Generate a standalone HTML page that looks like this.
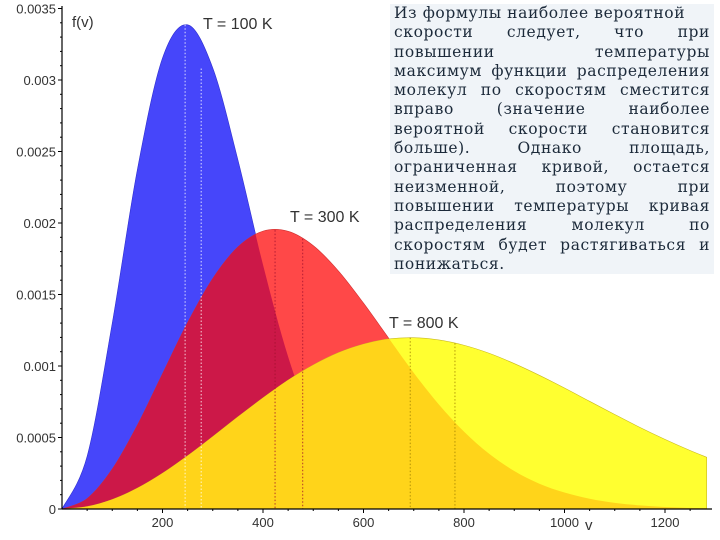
<!DOCTYPE html>
<html><head><meta charset="utf-8">
<style>
html,body{margin:0;padding:0;background:#fff;}
#wrap{position:relative;width:720px;height:540px;overflow:hidden;font-family:"Liberation Sans",sans-serif;}
svg{position:absolute;left:0;top:0;}
#note{position:absolute;left:390px;top:4px;width:324px;height:270px;background:#f0f4f8;padding:0 4px;box-sizing:border-box;
font-family:"DejaVu Serif","Liberation Serif",serif;font-size:15.5px;letter-spacing:0.6px;line-height:19.3px;color:#1c2a3a;}
#note div{text-align:justify;text-align-last:justify;white-space:nowrap;}
#note div.l{text-align-last:left;}
</style></head><body>
<div id="wrap">
<svg id="chart" width="720" height="540"></svg>
<div id="note">
<div class="l">Из формулы наиболее вероятной</div>
<div>скорости следует, что при</div>
<div>повышении температуры</div>
<div>максимум функции распределения</div>
<div>молекул по скоростям сместится</div>
<div>вправо (значение наиболее</div>
<div>вероятной скорости становится</div>
<div>больше). Однако площадь,</div>
<div>ограниченная кривой, остается</div>
<div>неизменной, поэтому при</div>
<div>повышении температуры кривая</div>
<div>распределения молекул по</div>
<div>скоростям будет растягиваться и</div>
<div class="l">понижаться.</div>
</div>
</div>
<script>
const speeds=[0,50,100,150,200,250,300,350,400,450,500,550,600,650,700,750,800,850,900,950,1000,1050,1100,1150,1200,1250,1283];
const f100=[0,0.000368,0.001299,0.002373,0.003153,0.003386,0.003084,0.002442,0.001708,0.001065,0.000596,0.000301,0.000137,0.000057,0.000021,0.000008,0.000003,0,0,0,0,0,0,0,0,0,0];
const f300=[0,0.0000728,0.000279,0.000586,0.000946,0.001304,0.001612,0.001832,0.001943,0.001942,0.001842,0.001665,0.00144,0.001195,0.000952,0.000731,0.000541,0.000386,0.000266,0.000177,0.000115,0.0000715,0.0000432,0.0000253,0.0000143,0.0000078,0.000006];
const f800=[0,0.0000169,0.0000664,0.0001456,0.0002496,0.000372,0.000506,0.000644,0.000777,0.000901,0.001007,0.001093,0.001153,0.001189,0.001198,0.001182,0.001145,0.001089,0.001017,0.000935,0.000846,0.000753,0.000661,0.000571,0.000487,0.000409,0.000362];
const xTicks=[200,400,600,800,1000,1200];
const yTicks=[0,0.0005,0.001,0.0015,0.002,0.0025,0.003,0.0035];
const yTickLabels=["0","0.0005","0.001","0.0015","0.002","0.0025","0.003","0.0035"];
const vLines=[[245,0.003386,'#fff'],[277,0.00308,'#fff'],[424,0.00195,'#a0102e'],[479,0.00189,'#a0102e'],[693,0.001198,'#a08000'],[782,0.00116,'#a08000']];

const NS="http://www.w3.org/2000/svg";
const svg=document.getElementById('chart');
const X0=62,Y0=509;
const xs=v=>X0+v*0.5025;
const ys=f=>Y0-f*143000;
function el(t,a,p){const e=document.createElementNS(NS,t);for(const k in a)e.setAttribute(k,a[k]);(p||svg).appendChild(e);return e;}
function pathFor(arr){
  const pts=speeds.map((v,i)=>[xs(v),ys(arr[i])]);
  let d=`M${pts[0][0]},${Y0} L${pts[0][0]},${pts[0][1]}`;
  for(let i=0;i<pts.length-1;i++){
    const p0=pts[Math.max(0,i-1)],p1=pts[i],p2=pts[i+1],p3=pts[Math.min(pts.length-1,i+2)];
    const c1=[p1[0]+(p2[0]-p0[0])/6,p1[1]+(p2[1]-p0[1])/6];
    const c2=[p2[0]-(p3[0]-p1[0])/6,p2[1]-(p3[1]-p1[1])/6];
    d+=` C${c1[0]},${Math.min(Y0,c1[1])} ${c2[0]},${Math.min(Y0,c2[1])} ${p2[0]},${p2[1]}`;
  }
  d+=` L${pts[pts.length-1][0]},${Y0} Z`;return d;
}
const defs=el('defs',{});
const dB=pathFor(f100),dR=pathFor(f300),dY=pathFor(f800);
const cB=el('clipPath',{id:'cb'},defs);el('path',{d:dB},cB);
const cR=el('clipPath',{id:'cr'},defs);el('path',{d:dR},cR);
const gb=el('path',{d:dB,fill:'#4646fa',stroke:'#3030d0','stroke-width':0.6});

const gr=el('path',{d:dR,fill:'#ff4848',stroke:'#d03030','stroke-width':0.6});

const grb=el('path',{d:dR,fill:'#cc1848','clip-path':'url(#cb)'});

const gy=el('path',{d:dY,fill:'#ffff30',stroke:'#c8b820','stroke-width':0.6});

const gyr=el('path',{d:dY,fill:'#ffd41a','clip-path':'url(#cr)'});

const gyb=el('path',{d:dY,fill:'#ffd41a','clip-path':'url(#cb)'});

vLines.forEach(l=>{const ln=el('line',{x1:xs(l[0]),x2:xs(l[0]),y1:ys(l[1]),y2:Y0,stroke:l[2],'stroke-width':1,'stroke-dasharray':'1.5,2',opacity:0.8});
});
const ax=el('line',{x1:X0,x2:X0,y1:6,y2:Y0,stroke:'#000','stroke-width':1.2});

const axx=el('line',{x1:X0,x2:712,y1:Y0,y2:Y0,stroke:'#000','stroke-width':1.2});

for(let f=0;f<=0.0035+1e-9;f+=0.0001){const major=Math.abs(f/0.0005-Math.round(f/0.0005))<1e-6;
  el('line',{x1:X0-(major?4:2),x2:X0,y1:ys(f),y2:ys(f),stroke:'#000','stroke-width':1});}
for(let v=50;v<=1280;v+=50){const major=v%200===0;el('line',{x1:xs(v),x2:xs(v),y1:Y0,y2:Y0+(major?4:2),stroke:'#000','stroke-width':1});}
yTicks.forEach((t,i)=>{const tx=el('text',{x:56,y:ys(t)+5,'text-anchor':'end','font-size':13,fill:'#333'});tx.textContent=yTickLabels[i];
});
xTicks.forEach(t=>{const tx=el('text',{x:xs(t),y:527,'text-anchor':'middle','font-size':13,fill:'#333'});tx.textContent=String(t);
});
function lab(x,y,s,n,fs){const t=el('text',{x:x,y:y,'font-size':fs||16,fill:'#333'});t.textContent=s;
}
lab(72,27,'f(v)','y-axis-title',15);
lab(585,530,'v','x-axis-title',15);
lab(203,29,'T = 100 K','label-100k');
lab(290,222,'T = 300 K','label-300k');
lab(389,328,'T = 800 K','label-800k');
</script>
</body></html>
